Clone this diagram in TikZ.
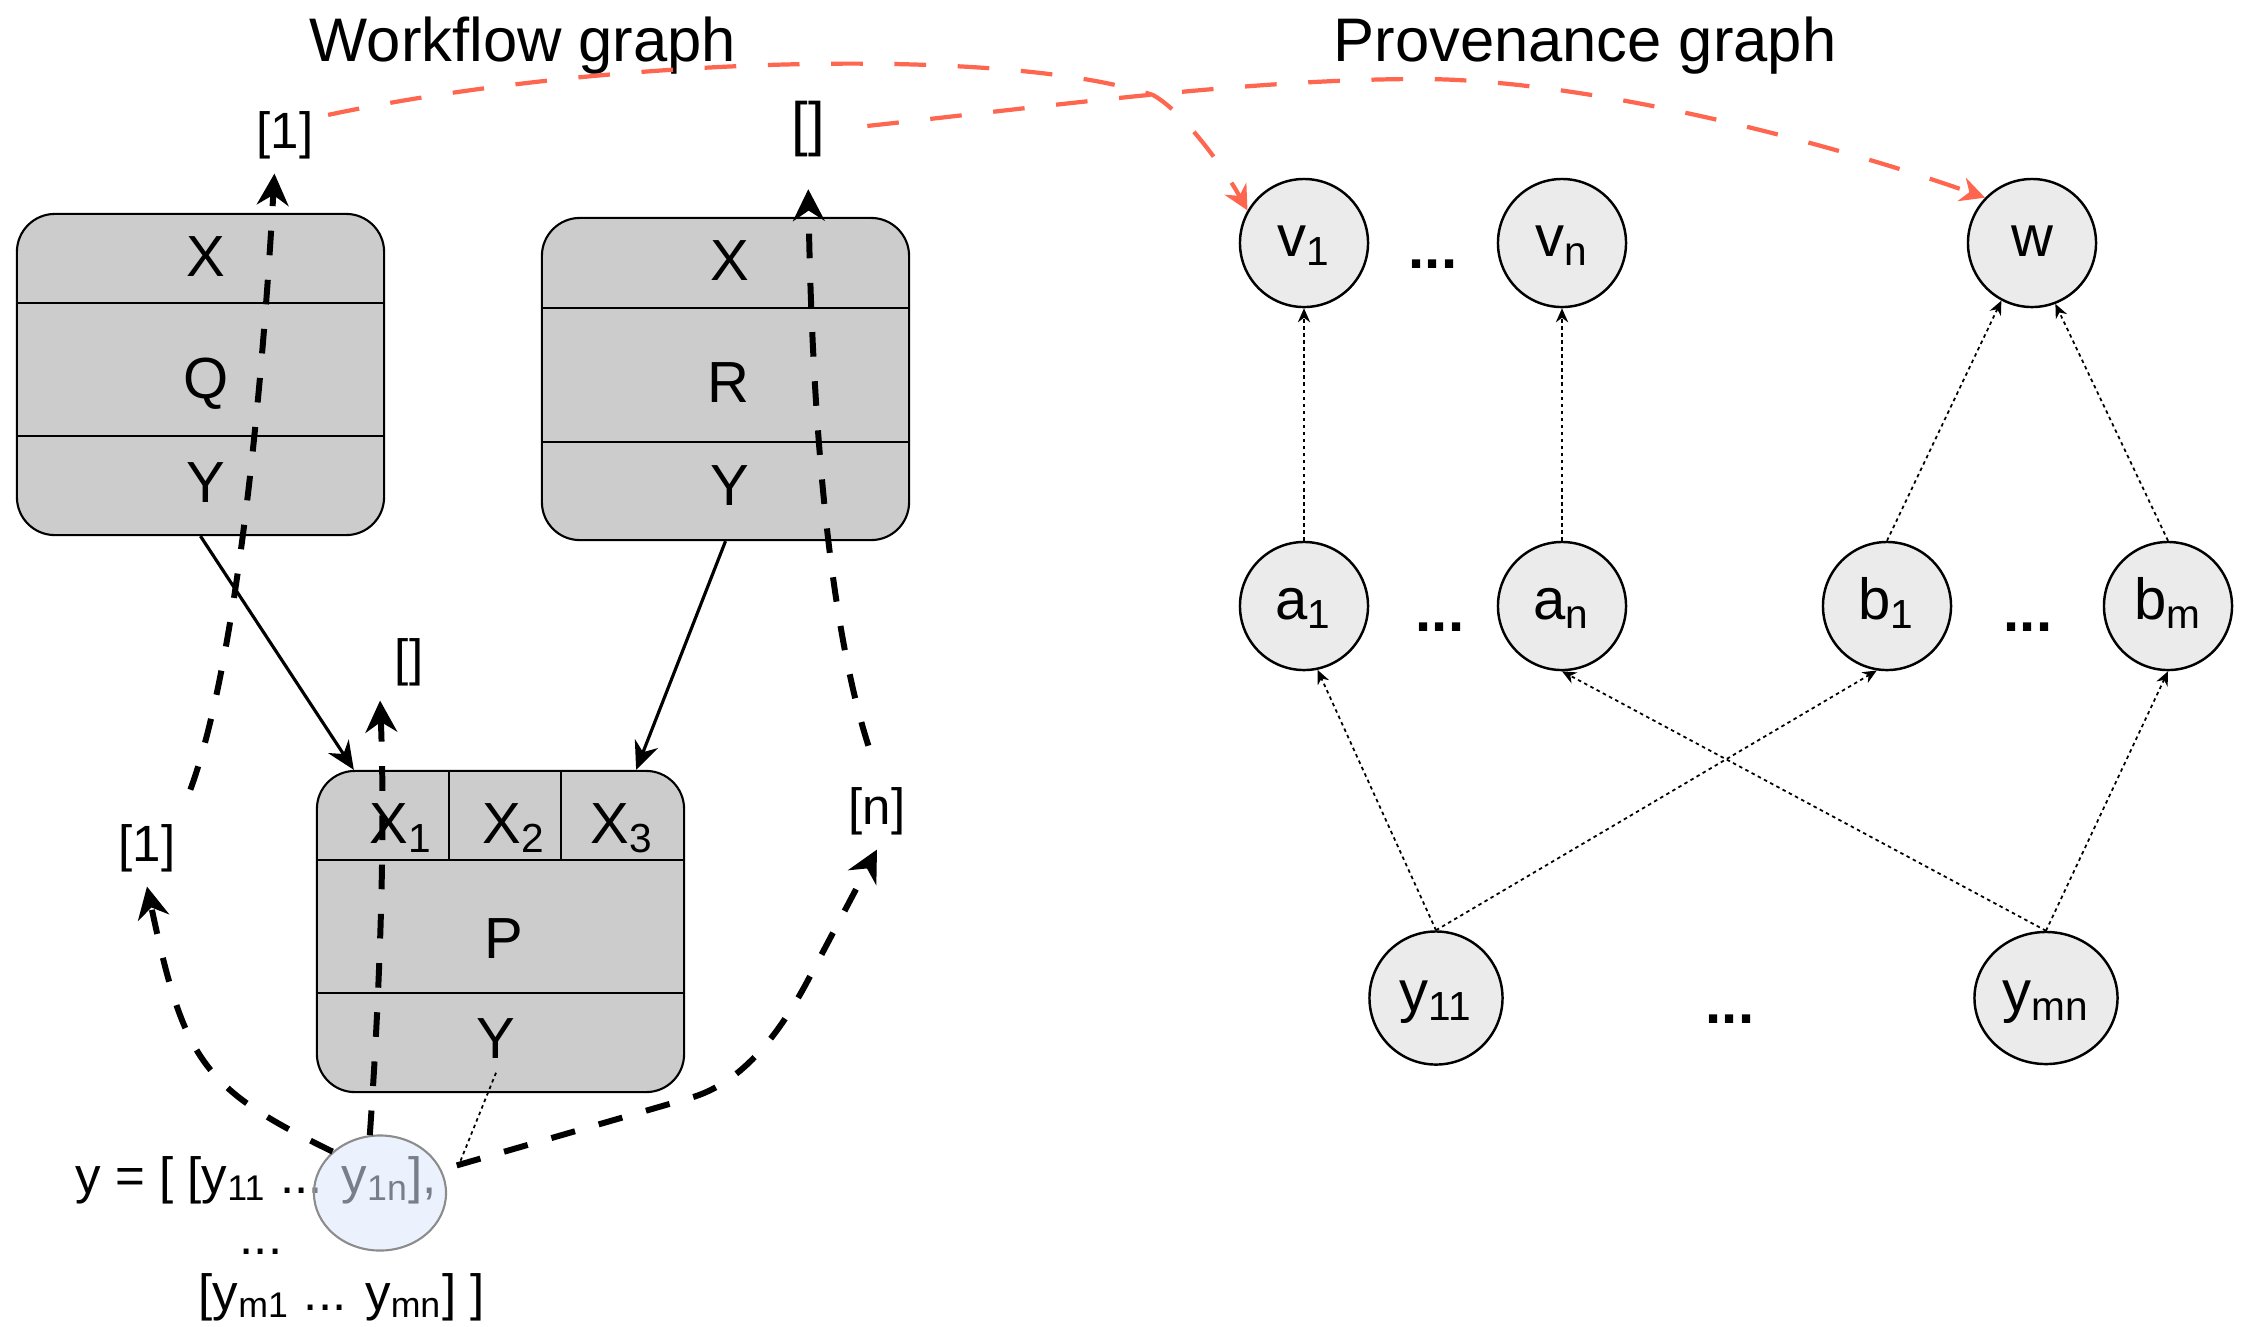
\documentclass[tikz,border=0pt]{standalone}
\usepackage{fontspec}
\setmainfont{Liberation Sans}
\usetikzlibrary{arrows.meta,shapes.geometric}

\definecolor{cellgray}{HTML}{CCCCCC}
\definecolor{nodegray}{HTML}{EBEBEB}
\definecolor{cellblue}{HTML}{DAE8FC}
\definecolor{linkred}{HTML}{FF6650}

\newcommand{\lblfont}{\fontsize{16.5}{20}\selectfont}
\newcommand{\idxfont}{\fontsize{14.5}{18}\selectfont}
\newcommand{\ttlfont}{\fontsize{17.5}{21}\selectfont}

\tikzset{
  actor/.style={draw, line width=0.6pt, fill=cellgray, rounded corners=0.38cm,
    minimum width=3.67cm, minimum height=3.21cm, inner sep=0pt},
  cell/.style={anchor=base, inner sep=0pt, font=\lblfont},
  idx/.style={inner sep=4pt, font=\idxfont},
  ent/.style={circle, draw, line width=0.7pt, fill=nodegray, minimum size=1.28cm,
    inner sep=0pt, font=\lblfont, text height=0.9em, text depth=0.15em},
  gap/.style={anchor=base, inner sep=0pt, font=\lblfont\bfseries},
  wire/.style={->, >={Stealth[length=8pt,width=7pt]}, line width=0.9pt},
  walk/.style={->, >={Stealth[length=9pt,width=9pt]}, line width=1.7pt,
    dash pattern=on 7pt off 7pt},
  link/.style={->, >={Stealth[length=7pt,width=7pt]}, draw=linkred, line width=1.2pt,
    dash pattern=on 9pt off 9pt},
  dep/.style={->, >={Stealth[length=4pt,width=3.5pt]}, line width=0.5pt,
    dash pattern=on 1pt off 1pt},
}

\begin{document}
\begin{tikzpicture}[x=0.01cm,y=-0.01cm,>=Stealth]
  \useasboundingbox (0,0) rectangle (2247,1326);

  \node[anchor=base, font=\ttlfont] (wfTitle) at (523,61) {Workflow graph};
  \node[anchor=base, font=\ttlfont] (pvTitle) at (1585,61) {Provenance graph};

  % workflow steps
  \node[actor] (Q) at (200.5,374.5) {};
  \draw[line width=0.6pt] (17,303) -- (384,303) (17,436) -- (384,436);
  \node[cell] (qX) at (206,276) {X};
  \node[cell] (qQ) at (206,398) {Q};
  \node[cell] (qY) at (206,502) {Y};

  \node[actor, minimum height=3.22cm] (R) at (725.5,379) {};
  \draw[line width=0.6pt] (542,308) -- (909,308) (542,442) -- (909,442);
  \node[cell] (rX) at (730,280) {X};
  \node[cell] (rR) at (728,402) {R};
  \node[cell] (rY) at (730,505) {Y};

  \node[actor] (P) at (500.5,931.5) {};
  \draw[line width=0.6pt] (317,860) -- (684,860) (317,993) -- (684,993)
    (449,771) -- (449,860) (561,771) -- (561,860);
  \node[cell] (pX1) at (401,843) {X\textsubscript{1}};
  \node[cell] (pX2) at (514,843) {X\textsubscript{2}};
  \node[cell] (pX3) at (622,843) {X\textsubscript{3}};
  \node[cell] (pP) at (504,958) {P};
  \node[cell] (pY) at (496,1058) {Y};

  \draw[wire] (Q.south) -- ([xshift=0.38cm]P.north west);
  \draw[wire] (R.south) -- ([xshift=-0.49cm]P.north east);

  % the nested list and its highlighted entry
  \node[anchor=base west, inner sep=0pt, font=\idxfont] (yrow1) at (75,1193)
    {y = [ [y\textsubscript{11} ... y\textsubscript{1n}],};
  \node[anchor=base, inner sep=0pt, font=\idxfont] (yrow2) at (261,1254) {...};
  \node[anchor=base west, inner sep=0pt, font=\idxfont] (yrow3) at (198,1310)
    {[y\textsubscript{m1} ... y\textsubscript{mn}] ]};
  \node[ellipse, draw=black!45, line width=0.6pt, fill=cellblue, fill opacity=0.55,
    minimum width=1.32cm, minimum height=1.15cm] (yone) at (380,1193) {};

  % index labels
  \node[idx] (topOne) at (285,135) {[1]};
  \node[idx, font=\fontsize{17}{20}\selectfont] (topE) at (808,129) {[]};
  \node[idx] (midE) at (409,662) {[]};
  \node[idx] (lowOne) at (147,848) {[1]};
  \node[idx] (lowN) at (877,811) {[n]};

  \draw[walk] (yone.north west) .. controls (202,1088) and (184,1061) .. (lowOne.south);
  \draw[walk] (yone.100) .. controls (378,1020) and (386,850) .. (midE.south west);
  \draw[walk] ([xshift=5pt]yone.25) -- (690,1098)
    .. controls (735,1085) and (772,1047) .. (807,982) -- (lowN.south);
  \draw[walk, shorten <=6pt] ([xshift=-2pt]lowOne.north east) .. controls (238,660) and (263,377)
    .. ([xshift=-3pt]topOne.south);
  \draw[walk, shorten <=8pt, shorten >=5pt] (lowN.north) .. controls (829,623) and (812,420)
    .. (topE.south);
  \draw[line width=0.5pt, dash pattern=on 1pt off 1pt] ([xshift=7pt]yone.30)
    -- ([yshift=-4pt]pY.south);

  % provenance nodes
  \node[ent] (v1) at (1304,243) {v\textsubscript{1}};
  \node[ent] (vn) at (1562,243) {v\textsubscript{n}};
  \node[ent] (w) at (2032,243) {w};
  \node[ent] (a1) at (1304,606) {a\textsubscript{1}};
  \node[ent] (an) at (1562,606) {a\textsubscript{n}};
  \node[ent] (b1) at (1887,606) {b\textsubscript{1}};
  \node[ent] (bm) at (2168,606) {b\textsubscript{m}};
  \node[ent, minimum size=1.33cm] (y11) at (1436,998) {y\textsubscript{11}};
  \node[ent, ellipse, minimum width=1.43cm, minimum height=1.32cm] (ymn) at (2046,998)
    {y\textsubscript{mn}};

  \node[gap] (dotsV) at (1433,268) {...};
  \node[gap] (dotsA) at (1440,631) {...};
  \node[gap] (dotsB) at (2028,631) {...};
  \node[gap] (dotsY) at (1730,1023) {...};

  \draw[dep] (a1.north) -- (v1.south);
  \draw[dep] (an.north) -- (vn.south);
  \draw[dep] (b1.north) -- (w.-118);
  \draw[dep] (bm.north) -- (w.-69);
  \draw[dep] (y11.north) -- (a1.-78);
  \draw[dep] (y11.north) -- (b1.-99);
  \draw[dep] (ymn.north) -- (an.south);
  \draw[dep] (ymn.north) -- (bm.south);

  \draw[link] (topOne.25) .. controls (600,57) and (1000,45) .. (1153,95)
    .. controls (1185,113) and (1225,170) .. (v1.150);
  \draw[link, shorten <=8pt] (topE.east) .. controls (1050,106) and (1250,79) .. (1420,79)
    .. controls (1580,79) and (1816,138) .. (w.136);
\end{tikzpicture}
\end{document}
